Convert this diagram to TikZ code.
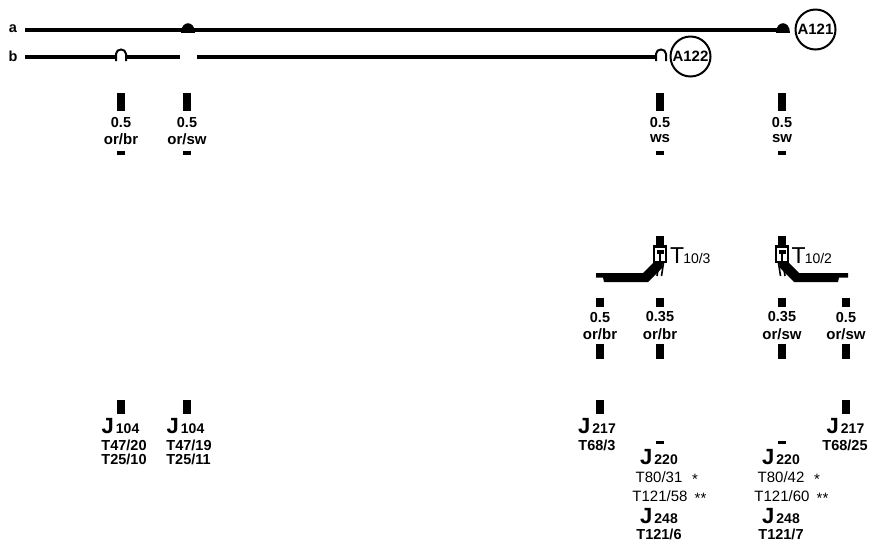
\documentclass[tikz,border=0pt]{standalone}
\usepackage{fontspec}
\setmainfont{Liberation Sans}
\tikzset{
	wire/.style={line width=4pt},
	stub/.style={line width=7.5pt},
	wirenote/.style={font=\fontsize{14.5}{14.5}\selectfont\bfseries, inner sep=0pt},
	colnote/.style={font=\fontsize{15}{15}\selectfont\bfseries, inner sep=0pt},
	pinnote/.style={font=\fontsize{15}{15}\selectfont, inner sep=0pt},
	partname/.style={font=\fontsize{14}{14}\selectfont\bfseries, inner sep=0pt},
	part/.style={draw, circle, line width=2pt, minimum size=40pt, inner sep=0pt, font=\fontsize{15}{15}\selectfont\bfseries},
}
\newcommand{\bigname}[2]{{\fontsize{22}{22}\selectfont #1}\kern2pt{\fontsize{14}{14}\selectfont #2}}
\begin{document}
\begin{tikzpicture}[x=1pt,y=-1pt]
	\useasboundingbox (0,0) rectangle (881,550);
	% lines a and b
	\node[wirenote] (namea) at (13,29) {a};
	\node[wirenote] (nameb) at (13,56) {b};
	\node[part] (A122) at (690.5,56.5) {A122};
	\node[part] (A121) at (815.5,29.5) {A121};
	\coordinate (astart) at (25,30.3);
	\coordinate (aend) at (782,30.3);
	\coordinate (bstart) at (25,57);
	\coordinate (bgapl) at (180,57);
	\coordinate (bgapr) at (197,57);
	\coordinate (bend) at (656,57);
	\draw[wire] (astart) -- (aend);
	\draw[wire] (bstart) -- (bgapl);
	\draw[wire] (bgapr) -- (bend);
	% joints
	\foreach \x in {188,783}
	\fill (\x-7,33) .. controls (\x-7,20) and (\x+7,20) .. (\x+7,33) -- cycle;
	\foreach \x in {121,661}
	\draw[line width=2pt,fill=white] (\x-5,61) -- (\x-5,54) .. controls (\x-5,48) and (\x+5,48) .. (\x+5,54) -- (\x+5,61);
	% upper branches
	\foreach \x/\size/\col in {121/0.5/or\slash br,187/0.5/or\slash sw,660/0.5/ws,782/0.5/sw}{
		\coordinate (upa\x) at (\x,93);
		\coordinate (upb\x) at (\x,111);
		\coordinate (upc\x) at (\x,150.5);
		\coordinate (upd\x) at (\x,155);
		\draw[stub] (upa\x) -- (upb\x);
		\draw[stub] (upc\x) -- (upd\x);
		\node[wirenote] (size\x) at (\x,123) {\size};
		\node[colnote] (col\x) at (\x,139) {\col};
	}
	% shielded connectors
	\foreach \x/\s/\tail in {660/1/64,782/-1/66}{
		\begin{scope}[shift={(\x,0)},x={(\s pt,0pt)}]
			\fill (-\tail,273) -- (-17,273) -- (-7,263) -- (3,263) -- (2,268) -- (-12,282) -- (-56,282) -- (-57,277.5) -- (-\tail,277.5) -- cycle;
			\draw[line width=7.5pt] (0,236) -- (0,246);
			\draw[line width=2.4pt,fill=white] (-5.8,246.5) rectangle (5.8,261.8);
			\fill (-3.5,250) rectangle (3.5,254);
			\fill (-1.2,254) rectangle (1.2,262);
			\draw[line width=1.6pt] (-1,263) -- (-3,276);
			\draw[line width=1.6pt] (3.5,263) -- (1.5,276);
		\end{scope}
	}
	\node[anchor=base west,inner sep=0pt,font=\fontsize{23}{23}\selectfont] (T103) at (670,263) {T\kern-1pt{\fontsize{14}{14}\selectfont 10\slash 3}};
	\node[anchor=base west,inner sep=0pt,font=\fontsize{23}{23}\selectfont] (T102) at (791.5,263) {T\kern-1pt{\fontsize{14}{14}\selectfont 10\slash 2}};
	% lower branches
	\foreach \x/\size/\col in {600/0.5/or\slash br,660/0.35/or\slash br,782/0.35/or\slash sw,846/0.5/or\slash sw}{
		\coordinate (loa\x) at (\x,297.5);
		\coordinate (lob\x) at (\x,306.5);
		\coordinate (loc\x) at (\x,344);
		\coordinate (lod\x) at (\x,359);
		\draw[stub] (loa\x) -- (lob\x);
		\draw[stub] (loc\x) -- (lod\x);
		\node[wirenote] (lsize\x) at (\x,317) {\size};
		\node[colnote] (lcol\x) at (\x,334) {\col};
	}
	% ends at the parts
	\foreach \x in {121,187,600,846}{
		\coordinate (ena\x) at (\x,400);
		\coordinate (enb\x) at (\x,414);
		\draw[stub] (ena\x) -- (enb\x);
	}
	\foreach \x in {660,782}{
		\coordinate (dsa\x) at (\x,441);
		\coordinate (dsb\x) at (\x,444);
		\draw[stub] (dsa\x) -- (dsb\x);
	}
	\node[partname] (J104a) at (120.5,426.5) {\bigname{J}{104}};
	\node[wirenote] (T47a) at (124,445) {T47\slash 20};
	\node[wirenote] (T25a) at (124,459) {T25\slash 10};
	\node[partname] (J104b) at (185.5,426.5) {\bigname{J}{104}};
	\node[wirenote] (T47b) at (189,445) {T47\slash 19};
	\node[wirenote] (T25b) at (188.5,459) {T25\slash 11};
	\node[partname] (J217a) at (597,426.5) {\bigname{J}{217}};
	\node[wirenote] (T68a) at (597,445) {T68\slash 3};
	\node[partname] (J217b) at (845.5,426.5) {\bigname{J}{217}};
	\node[wirenote] (T68b) at (845,445) {T68\slash 25};
	\foreach \x/\ta/\tb/\tc/\tag in {660/T80\slash 31/T121\slash 58/T121\slash 6/l,782/T80\slash 42/T121\slash 60/T121\slash 7/r}{
		\node[partname] (J220\tag) at (\x-1,457) {\bigname{J}{220}};
		\node[pinnote] (T80\tag) at (\x-1,477) {\ta};
		\node[pinnote] (T121\tag) at (\x,496) {\tb};
		\node[pinnote] (stara\tag) at (\x+35,479) {*};
		\node[pinnote] (starb\tag) at (\x+40.5,498) {**};
		\node[partname] (J248\tag) at (\x-1,516) {\bigname{J}{248}};
		\node[wirenote] (T6\tag) at (\x-1,534) {\tc};
	}
\end{tikzpicture}
\end{document}
